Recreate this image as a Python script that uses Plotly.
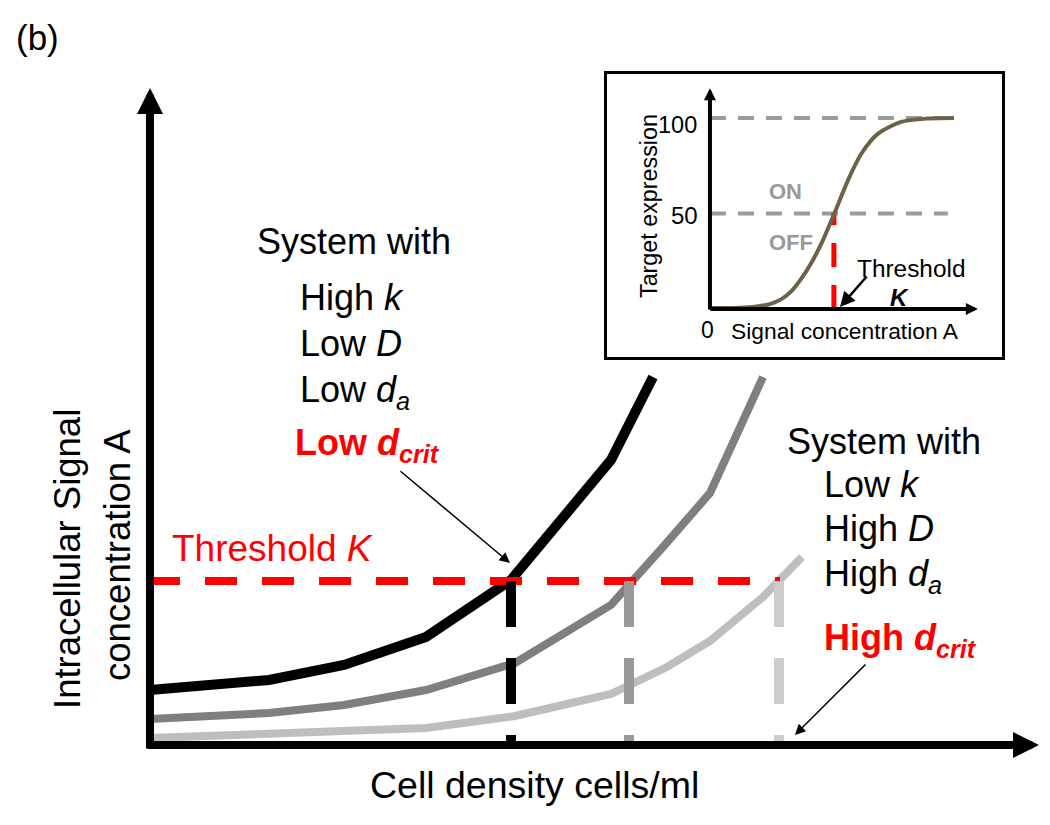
import plotly.graph_objects as go

W, H = 1050, 825

# ---------------- Main chart data (arbitrary units) ----------------
density_black = [0, 2.38, 3.88, 5.52, 7.22, 9.22, 10.06]
signal_black = [1.10, 1.30, 1.60, 2.16, 3.30, 5.70, 7.36]
density_gray = [0, 2.38, 3.88, 5.52, 7.30, 9.22, 10.26, 11.2, 12.26]
signal_gray = [0.52, 0.64, 0.80, 1.10, 1.64, 2.80, 3.96, 5.04, 7.36]
density_light = [0, 5.52, 7.30, 9.22, 10.34, 11.2, 12.26, 13.04]
signal_light = [0.14, 0.34, 0.58, 1.02, 1.56, 2.08, 2.96, 3.76]
threshold_K = 3.28
threshold_span = [-0.04, 12.6]
d_crit = [7.22, 9.58, 12.58]
d_crit_colors = ["#000000", "#999999", "#cccccc"]

# ---------------- Inset data ----------------
sig_conc = [0, 1.2, 1.84, 2.45, 2.93, 3.35, 3.75, 4.17, 4.57, 5.09, 5.66, 6.21, 6.89, 7.84, 8.94, 10.0]
target_expr = [0.5, 0.7, 1.2, 2.6, 5.2, 9.5, 16, 24.5, 34.4, 49.7, 67.5, 81.4, 91.8, 97.9, 99.7, 100]
inset_levels = [100, 50]
inset_level_ends = [9.55, 9.75]
K_inset = 5.08

FONT = "Liberation Sans, Arial, sans-serif"


def P(x, y):
    return x / W, 1 - y / H


fig = go.Figure()

# curves
fig.add_trace(go.Scatter(x=density_light, y=signal_light, mode="lines",
                         line=dict(color="#bebdbf", width=8), hoverinfo="skip"))
fig.add_trace(go.Scatter(x=density_gray, y=signal_gray, mode="lines",
                         line=dict(color="#7f7e80", width=8), hoverinfo="skip"))
fig.add_trace(go.Scatter(x=density_black, y=signal_black, mode="lines",
                         line=dict(color="#000000", width=10), hoverinfo="skip"))

# threshold
fig.add_trace(go.Scatter(x=threshold_span, y=[threshold_K, threshold_K], mode="lines",
                         line=dict(color="#ff0000", width=8, dash="32px,25px"),
                         hoverinfo="skip"))
# critical densities
for dc, col in zip(d_crit, d_crit_colors):
    fig.add_trace(go.Scatter(x=[dc, dc], y=[threshold_K, 0], mode="lines",
                             line=dict(color=col, width=10, dash="46px,31px"),
                             hoverinfo="skip"))

# inset
for lvl, xe in zip(inset_levels, inset_level_ends):
    fig.add_trace(go.Scatter(x=[0, xe], y=[lvl, lvl], mode="lines", xaxis="x2", yaxis="y2",
                             line=dict(color="#9a9a9a", width=4, dash="16px,12px"),
                             hoverinfo="skip"))
fig.add_trace(go.Scatter(x=[K_inset, K_inset], y=[0, 50], mode="lines", xaxis="x2", yaxis="y2",
                         line=dict(color="#ff0000", width=5, dash="24px,18px"),
                         hoverinfo="skip"))
fig.add_trace(go.Scatter(x=sig_conc, y=target_expr, mode="lines", xaxis="x2", yaxis="y2",
                         line=dict(color="#6e6148", width=4, shape="spline", smoothing=0.8),
                         hoverinfo="skip"))

ann = []

# main axis arrows
ann.append(dict(x=17.78, y=0, ax=-0.08, ay=0, xref="x", yref="y", axref="x", ayref="y",
                showarrow=True, arrowhead=2, arrowwidth=8, arrowsize=0.65,
                arrowcolor="black", text=""))
ann.append(dict(x=0, y=13.14, ax=0, ay=-0.1, xref="x", yref="y", axref="x", ayref="y",
                showarrow=True, arrowhead=2, arrowwidth=8, arrowsize=0.65,
                arrowcolor="black", text=""))
# inset axis arrows
ann.append(dict(x=10.98, y=0, ax=-0.05, ay=0, xref="x2", yref="y2", axref="x2", ayref="y2",
                showarrow=True, arrowhead=2, arrowwidth=4, arrowsize=0.6,
                arrowcolor="black", text=""))
ann.append(dict(x=0, y=115.6, ax=0, ay=-1, xref="x2", yref="y2", axref="x2", ayref="y2",
                showarrow=True, arrowhead=2, arrowwidth=4, arrowsize=0.6,
                arrowcolor="black", text=""))


def txt(s, x, y, size, color="black", xanchor="left", angle=0):
    px, py = P(x, y)
    ann.append(dict(x=px, y=py, xref="paper", yref="paper", text=s, showarrow=False,
                    xanchor=xanchor, yanchor="middle", textangle=angle,
                    font=dict(family=FONT, size=size, color=color)))


def arrow(tip, tail, width=1.5, size=1.4):
    px, py = P(*tip)
    ann.append(dict(x=px, y=py, xref="paper", yref="paper", text="", showarrow=True,
                    ax=tail[0] - tip[0], ay=tail[1] - tip[1], arrowhead=2,
                    arrowwidth=width, arrowsize=size, arrowcolor="black"))


RED = "#ff0000"
BIG = 36
txt("(b)", 37, 38, 35, xanchor="center")

# left block
txt("System with", 255, 241, BIG)
txt("High <i>k</i>", 298, 297, BIG)
txt("Low <i>D</i>", 298, 343, BIG)
txt("Low <i>d</i><sub><i>a</i></sub>", 298, 392, BIG)
txt("<b>Low <i>d</i><sub><i>crit</i></sub></b>", 293, 445, BIG, color=RED)

# right block
txt("System with", 785, 441, BIG)
txt("Low <i>k</i>", 822, 484, BIG)
txt("High <i>D</i>", 822, 528, BIG)
txt("High <i>d</i><sub><i>a</i></sub>", 822, 576, BIG)
txt("<b>High <i>d</i><sub><i>crit</i></sub></b>", 822, 640, BIG, color=RED)

txt("Threshold <i>K</i>", 170, 548, 37, color=RED)

txt("Cell density cells/ml", 534, 785, 37.5, xanchor="center")
txt("Intracellular Signal", 67, 559, 36.5, xanchor="center", angle=-90)
txt("concentration A", 117, 555, 36.5, xanchor="center", angle=-90)

arrow((510, 563), (399, 470))
arrow((795, 735), (867, 663))

# inset texts
txt("Target expression", 649, 206, 23.3, xanchor="center", angle=-90)
txt("100", 699, 125, 23.5, xanchor="right")
txt("50", 700, 215, 24, xanchor="right")
txt("0", 707, 330, 23, xanchor="center")
txt("Signal concentration A", 845, 331, 22.8, xanchor="center")
txt("<b>ON</b>", 767, 192, 22, color="#999999")
txt("<b>OFF</b>", 767, 242, 22, color="#999999")
txt("Threshold", 855, 268, 24.4)
txt("<b><i>K</i></b>", 888, 297, 24)
arrow((840, 307), (868, 275), width=2.5, size=1.2)

fig.update_layout(
    width=W, height=H,
    margin=dict(l=0, r=0, t=0, b=0),
    paper_bgcolor="white", plot_bgcolor="rgba(0,0,0,0)",
    showlegend=False,
    xaxis=dict(domain=[0, 1], range=[-3, 18], visible=False, fixedrange=True),
    yaxis=dict(domain=[0, 1], range=[-1.6, 14.9], visible=False, fixedrange=True),
    xaxis2=dict(domain=[607 / W, 1002 / W], range=[-4.22, 11.97], anchor="y2",
                showline=True, mirror=True, linecolor="black", linewidth=3,
                showgrid=False, zeroline=False, showticklabels=False, ticks="",
                fixedrange=True),
    yaxis2=dict(domain=[1 - 357 / H, 1 - 74 / H], range=[-25.1, 123.0], anchor="x2",
                showline=True, mirror=True, linecolor="black", linewidth=3,
                showgrid=False, zeroline=False, showticklabels=False, ticks="",
                fixedrange=True),
    annotations=ann,
)

fig.write_html("out.html", config={"displayModeBar": False},
               post_script="document.body.style.margin='0px';")
